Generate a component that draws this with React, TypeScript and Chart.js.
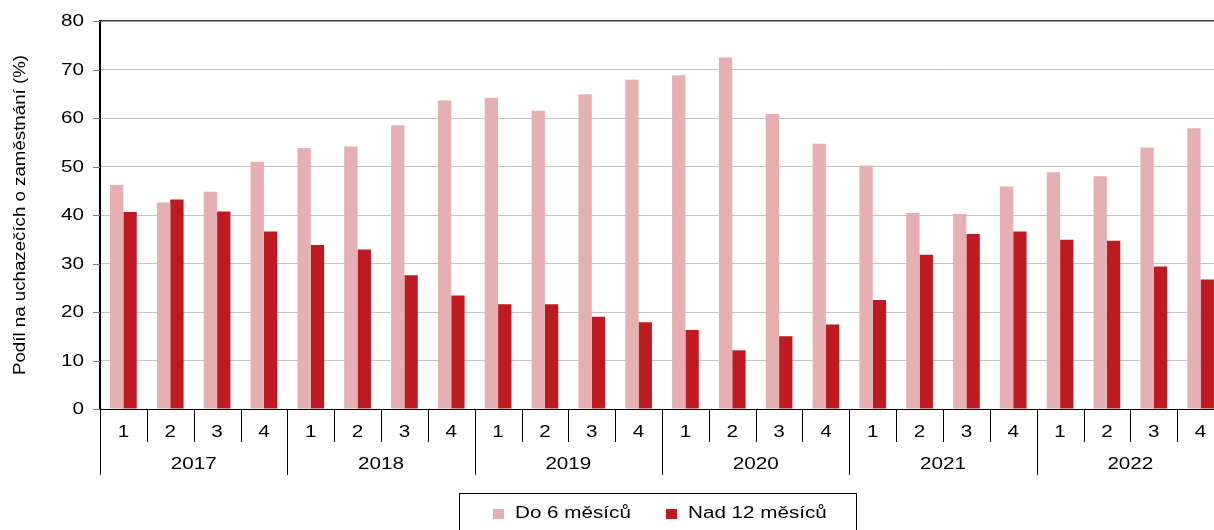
import React, { useEffect, useRef } from "react";
import { Chart, registerables } from "chart.js";

Chart.register(...registerables);

const years = ["2017", "2018", "2019", "2020", "2021", "2022"];
const quarters = ["1", "2", "3", "4"];
const seriesNames = ["Do 6 měsíců", "Nad 12 měsíců"];
const do6 = [46.2, 42.6, 44.8, 51.0, 53.8, 54.1, 58.5, 63.6, 64.2, 61.5, 64.9, 67.9, 68.8, 72.5, 60.8, 54.7, 50.2, 40.4, 40.2, 45.9, 48.8, 48.0, 53.9, 57.9];
const nad12 = [40.6, 43.2, 40.7, 36.6, 33.8, 32.9, 27.6, 23.4, 21.6, 21.6, 19.0, 17.9, 16.3, 12.1, 15.0, 17.4, 22.5, 31.8, 36.1, 36.6, 34.9, 34.7, 29.4, 26.7];
const yTicks = [0, 10, 20, 30, 40, 50, 60, 70, 80];
const yTitle = "Podíl na uchazečích o zaměstnání (%)";

const PINK = "#E6B0B3";
const RED = "#BD1A22";
const FONT = "16px 'Liberation Sans', Arial, sans-serif";
const SX = 1.29;

function stretchText(ctx: CanvasRenderingContext2D, text: string, x: number, y: number, align: CanvasTextAlign) {
  ctx.save();
  ctx.translate(x, y);
  ctx.scale(SX, 1);
  ctx.font = FONT;
  ctx.fillStyle = "#000";
  ctx.textAlign = align;
  ctx.textBaseline = "middle";
  ctx.fillText(text, 0, 0);
  ctx.restore();
}

const decorPlugin = {
  id: "decor",
  afterDraw(chart: any) {
    const ctx: CanvasRenderingContext2D = chart.ctx;
    const xs = chart.scales.x;
    const ys = chart.scales.y;
    const area = chart.chartArea;
    const n = xs.ticks.length;
    const catW = (xs.getPixelForValue(n - 1) - xs.getPixelForValue(0)) / (n - 1);

    ctx.save();
    // y tick marks and labels
    yTicks.forEach((v) => {
      const y = Math.round(ys.getPixelForValue(v)) + 0.5;
      ctx.strokeStyle = "#7f7f7f";
      ctx.lineWidth = 1;
      ctx.beginPath();
      ctx.moveTo(area.left - 7, y);
      ctx.lineTo(area.left, y);
      ctx.stroke();
      stretchText(ctx, String(v), area.left - 16, y, "right");
    });

    // x separators
    const bottom = area.bottom;
    for (let i = 0; i <= n; i++) {
      const x = Math.round(xs.getPixelForValue(0) - catW / 2 + i * catW) + 0.5;
      ctx.strokeStyle = "#000";
      ctx.lineWidth = 1;
      ctx.beginPath();
      ctx.moveTo(x, bottom);
      ctx.lineTo(x, bottom + (i % 4 === 0 ? 66 : 33));
      ctx.stroke();
    }
    // quarter labels
    for (let i = 0; i < n; i++) {
      stretchText(ctx, quarters[i % 4], xs.getPixelForValue(i), bottom + 24, "center");
    }
    // year labels
    years.forEach((yr, j) => {
      const cx = (xs.getPixelForValue(j * 4) + xs.getPixelForValue(j * 4 + 3)) / 2;
      stretchText(ctx, yr, cx, bottom + 56, "center");
    });

    // y title
    ctx.save();
    ctx.font = FONT;
    const w = ctx.measureText(yTitle).width;
    const k = 320 / w;
    ctx.translate(21, (area.top + area.bottom) / 2);
    ctx.rotate(-Math.PI / 2);
    ctx.scale(k, 1);
    ctx.fillStyle = "#000";
    ctx.textAlign = "center";
    ctx.textBaseline = "middle";
    ctx.fillText(yTitle, 0, 0);
    ctx.restore();

    // legend
    ctx.strokeStyle = "#000";
    ctx.lineWidth = 1;
    ctx.strokeRect(459.5, 493.5, 397, 60);
    ctx.fillStyle = PINK;
    ctx.fillRect(493, 509, 11, 10);
    stretchText(ctx, seriesNames[0], 515, 514, "left");
    ctx.fillStyle = RED;
    ctx.fillRect(666, 509, 11, 10);
    stretchText(ctx, seriesNames[1], 688, 514, "left");
    ctx.restore();
  },
};

export default function App() {
  const ref = useRef<HTMLCanvasElement | null>(null);
  useEffect(() => {
    if (!ref.current) return;
    const labels: string[] = [];
    years.forEach((y) => quarters.forEach((q) => labels.push(`${y} Q${q}`)));
    const chart = new Chart(ref.current, {
      type: "bar",
      data: {
        labels,
        datasets: [
          { label: seriesNames[0], data: do6, backgroundColor: PINK, borderWidth: 0 },
          { label: seriesNames[1], data: nad12, backgroundColor: RED, borderWidth: 0 },
        ],
      },
      options: {
        responsive: false,
        animation: false,
        devicePixelRatio: 1,
        layout: { padding: { top: 21, right: 6, left: 0, bottom: 0 } },
        plugins: { legend: { display: false }, tooltip: { enabled: false } },
        datasets: { bar: { categoryPercentage: 0.57, barPercentage: 1 } },
        scales: {
          x: {
            type: "category",
            offset: true,
            grid: { display: false, drawTicks: false },
            border: { display: true, color: "#000", width: 1 },
            ticks: { display: false },
            afterFit: (s: any) => {
              s.height = 121;
            },
          },
          y: {
            min: 0,
            max: 80,
            ticks: { display: false, stepSize: 10 },
            grid: {
              drawTicks: false,
              color: (c: any) => (c.tick && c.tick.value === 80 ? "#404040" : "#c4c4c4"),
              lineWidth: (c: any) => (c.tick && c.tick.value === 80 ? 1.5 : 1),
            },
            border: { display: true, color: "#000", width: 2 },
            afterFit: (s: any) => {
              s.width = 100;
            },
          },
        },
      },
      plugins: [decorPlugin],
    });
    return () => chart.destroy();
  }, []);
  return (
    <div style={{ position: "fixed", left: 0, top: 0, width: 1214, height: 530, overflow: "hidden", background: "#fff" }}>
      <canvas ref={ref} width={1230} height={530} style={{ display: "block" }} />
    </div>
  );
}
